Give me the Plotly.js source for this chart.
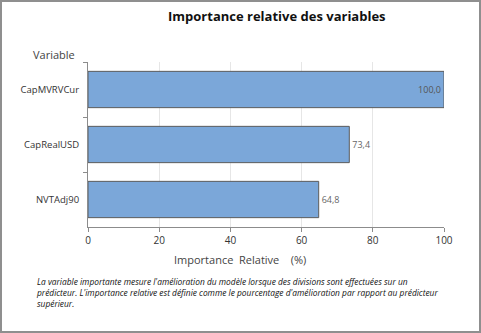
<!DOCTYPE html>
<html>
<head>
<meta charset="utf-8">
<script src="https://cdn.plot.ly/plotly-3.0.1.min.js"></script>
<style>
  html, body { margin: 0; padding: 0; background: #fff; }
  #wrap { position: relative; width: 481px; height: 333px; }
  #chart { width: 481px; height: 333px; }
  #frame { position: absolute; left: 0; top: 0; width: 477px; height: 329px;
           border: 2px solid #8f8f8f; pointer-events: none; }
</style>
</head>
<body>
<div id="wrap"><div id="chart"></div><div id="frame"></div></div>
<script>
const variables = ["CapMVRVCur", "CapRealUSD", "NVTAdj90"];
const importance = [100.0, 73.4, 64.8];
const xTicks = [0, 20, 40, 60, 80, 100];
const chartTitle = "Importance relative des variables";
const yLabel = "Variable";
const xLabel = "Importance  Relative    (%)";
const footnote = "La variable importante mesure l'amélioration du modèle lorsque des divisions sont effectuées sur un<br>prédicteur. L'importance relative est définie comme le pourcentage d'amélioration par rapport au prédicteur<br>supérieur.";

const font = "'Open Sans', 'Noto Sans', sans-serif";

const trace = {
  type: "bar",
  orientation: "h",
  x: importance,
  y: variables,
  marker: { color: "#7ba7d9", line: { color: "#5c5c5c", width: 1 } },
  texttemplate: "%{x:.1f}",
  textposition: importance.map(v => v >= 90 ? "inside" : "outside"),
  insidetextanchor: "end",
  textfont: { family: font, size: 9, color: "#666666" },
  insidetextfont: { family: font, size: 9, color: "#555555" },
  outsidetextfont: { family: font, size: 9, color: "#666666" },
  constraintext: "none",
  cliponaxis: false,
  hoverinfo: "none"
};

const layout = {
  width: 481, height: 333,
  margin: { l: 88, r: 37, t: 62, b: 106 },
  paper_bgcolor: "#ffffff",
  plot_bgcolor: "#ffffff",
  separators: ", ",
  bargap: 0.34,
  showlegend: false,
  font: { family: font, color: "#333333" },
  xaxis: {
    range: [0, 100],
    tickvals: xTicks,
    ticktext: xTicks.map(String),
    showgrid: true, gridcolor: "#e6e6e6", gridwidth: 1,
    zeroline: false,
    showline: true, linecolor: "#8c8c8c", linewidth: 1,
    ticks: "outside", ticklen: 4, tickcolor: "#8c8c8c",
    tickfont: { family: font, size: 10, color: "#333333" },
    fixedrange: true
  },
  yaxis: {
    type: "category",
    categoryorder: "array",
    categoryarray: variables,
    autorange: "reversed",
    tickson: "boundaries",
    ticks: "outside", ticklen: 4, tickcolor: "#8c8c8c",
    showline: true, linecolor: "#8c8c8c", linewidth: 1,
    showgrid: false, zeroline: false,
    tickfont: { family: font, size: 9.5, color: "#333333" },
    ticklabelstandoff: 6,
    fixedrange: true
  },
  annotations: [
    { text: "<b>" + chartTitle + "</b>", xref: "paper", yref: "paper",
      x: 0.53, y: 1, yshift: 46, xanchor: "center", yanchor: "middle",
      showarrow: false, font: { family: font, size: 13, color: "#111111" } },
    { text: yLabel, xref: "paper", yref: "paper",
      x: 0, xshift: -11, y: 1, yshift: 8, xanchor: "right", yanchor: "middle",
      showarrow: false, font: { family: font, size: 11, color: "#444444" } },
    { text: xLabel, xref: "paper", yref: "paper",
      x: 0.427, y: 0, yshift: -32, xanchor: "center", yanchor: "middle",
      showarrow: false, font: { family: font, size: 11, color: "#444444" } },
    { text: "<i>" + footnote + "</i>", xref: "paper", yref: "paper",
      x: 0, xshift: -54, y: 0, yshift: -65, xanchor: "left", yanchor: "middle",
      align: "left", showarrow: false,
      font: { family: font, size: 8.4, color: "#111111" } }
  ]
};

Plotly.newPlot("chart", [trace], layout, { displayModeBar: false, staticPlot: true });
</script>
</body>
</html>
